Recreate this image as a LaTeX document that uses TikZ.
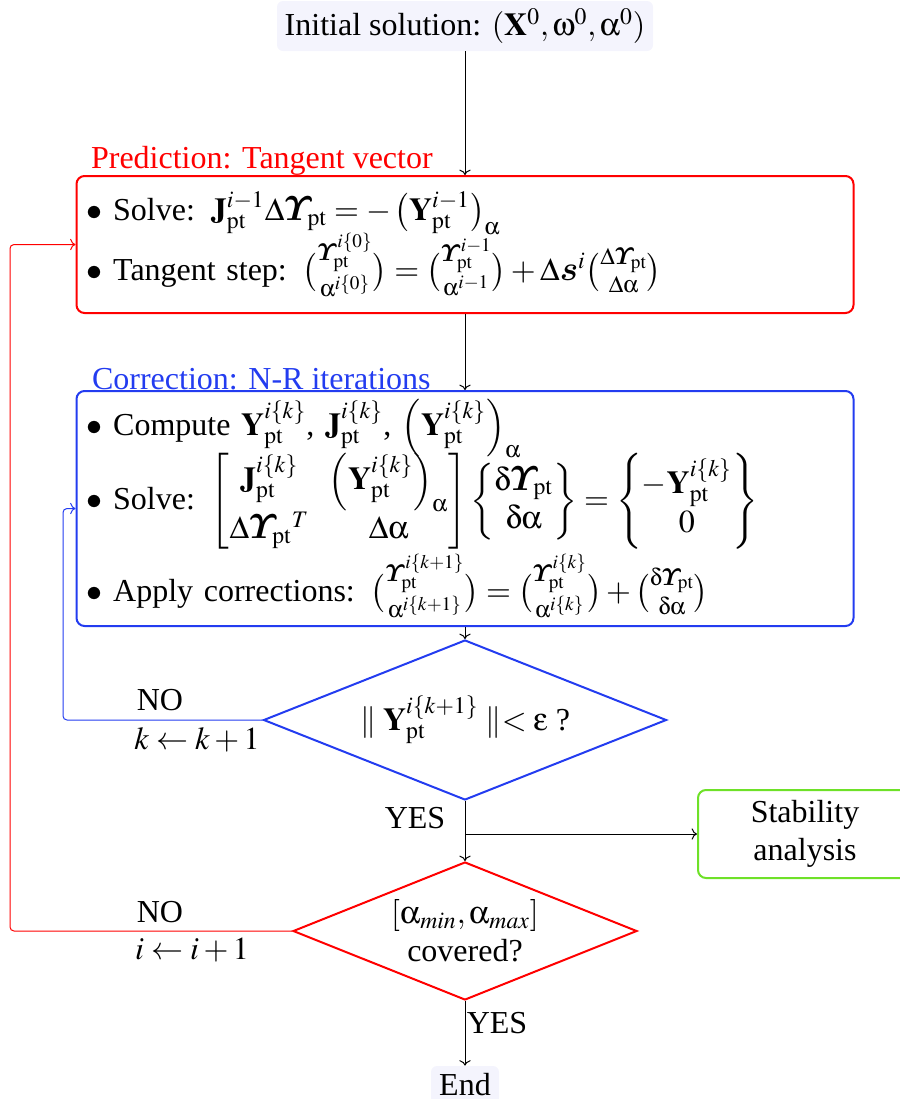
\documentclass[tikz,border=0pt]{standalone}
\usepackage{amsmath}
\usepackage{mathptmx}
\usepackage[Symbol]{upgreek}
\usepackage[no-math]{fontspec}
\setmainfont{Liberation Serif}
\usetikzlibrary{shapes.geometric,arrows.meta,calc}
\DeclareSymbolFont{cmboldit}{OML}{cmm}{b}{it}
\DeclareMathSymbol{\bUps}{\mathord}{cmboldit}{"07}
\DeclareMathAlphabet{\mathbit}{OML}{cmm}{b}{it}
\newcommand{\ptx}{\mathrm{pt}}
\newcommand{\ua}{\upalpha}
\newcommand{\uo}{\upomega}
\newcommand{\ud}{\updelta}
\newcommand{\ue}{\upepsilon}
\newcommand{\itm}{$\bullet$\ }
\definecolor{myblue}{RGB}{35,60,240}
\definecolor{mygreen}{RGB}{110,225,40}
\definecolor{lav}{RGB}{244,244,253}
\begin{document}
\begin{tikzpicture}[x=0.5pt,y=-0.5pt,
  every node/.style={font=\fontsize{16}{19}\selectfont},
  termbox/.style={fill=lav, rounded corners=3pt, inner sep=2pt},
  stagebox/.style={rounded corners=4pt, line width=1pt, minimum width=388.5pt,
    text width=378.5pt, inner xsep=5pt, inner ysep=2pt, align=left},
  decbox/.style={diamond, aspect=2.5, line width=1pt, inner sep=0pt, align=center},
  conn/.style={->, line width=0.5pt}]
\useasboundingbox (0,0) rectangle (900,1099);
\clip (0,0) rectangle (900,1099);

\node[termbox, minimum width=188pt, minimum height=25pt] (init) at (465,26)
  {Initial solution: $(\mathbf{X}^0,\uo^0,\ua^0)$};

\node[stagebox, draw=red, minimum height=68.5pt] (pred) at (465,244.5)
  {\itm Solve: $\mathbf{J}_{\ptx}^{i-1}\Delta\bUps_{\ptx}=-\left(\mathbf{Y}_{\ptx}^{i-1}\right)_{\ua}$\\[-2pt]
   \itm Tangent step: $\binom{\bUps_{\ptx}^{i\{0\}}}{\ua^{i\{0\}}}=\binom{\bUps_{\ptx}^{i-1}}{\ua^{i-1}}+\Delta\mathbit{s}^{i}\binom{\Delta\bUps_{\ptx}}{\Delta\ua}$};
\node[anchor=base west, text=red] (predlbl) at (84,168) {Prediction: Tangent vector};

\node[stagebox, draw=myblue, minimum height=117.5pt] (corr) at (465,508.5)
  {\itm Compute $\mathbf{Y}_{\ptx}^{i\{k\}}$, $\mathbf{J}_{\ptx}^{i\{k\}}$, $\left(\mathbf{Y}_{\ptx}^{i\{k\}}\right)_{\ua}$\\[-3.5pt]
   \itm Solve: $\begin{bmatrix}\mathbf{J}_{\ptx}^{i\{k\}} & \left(\mathbf{Y}_{\ptx}^{i\{k\}}\right)_{\ua}\\ \Delta\bUps_{\ptx}{}^{T} & \Delta\ua\end{bmatrix}\begin{Bmatrix}\ud\bUps_{\ptx}\\ \ud\ua\end{Bmatrix}=\begin{Bmatrix}-\mathbf{Y}_{\ptx}^{i\{k\}}\\ 0\end{Bmatrix}$\\[1pt]
   \itm Apply corrections: $\binom{\bUps_{\ptx}^{i\{k+1\}}}{\ua^{i\{k+1\}}}=\binom{\bUps_{\ptx}^{i\{k\}}}{\ua^{i\{k\}}}+\binom{\ud\bUps_{\ptx}}{\ud\ua}$};
\node[anchor=base west, text=myblue] (corrlbl) at (85,389) {Correction: N-R iterations};

\node[decbox, draw=myblue, minimum width=201.5pt, minimum height=80pt] (chk) at (465,720)
  {$\parallel\mathbf{Y}_{\ptx}^{i\{k+1\}}\parallel<\ue$ ?};

\node[decbox, draw=red, minimum width=172pt, minimum height=69pt] (cov) at (465,931)
  {$[\ua_{min},\ua_{max}]$\\covered?};

\node[draw=mygreen, line width=1pt, rounded corners=4pt, minimum width=107pt,
  minimum height=44pt, align=center] (stab) at (805,834) {Stability\\analysis};

\node[termbox, minimum width=34pt, minimum height=19pt] (end) at (465,1085) {End};

\node (no1) at (160,700) {NO};
\node (kinc) at (197,740) {$k\leftarrow k+1$};
\node (yes1) at (415,818) {YES};
\node (no2) at (160,912) {NO};
\node (iinc) at (192,950) {$i\leftarrow i+1$};
\node (yes2) at (497,1023) {YES};

\draw[conn] (init) -- (pred);
\draw[conn] (pred) -- (corr);
\draw[conn] (corr) -- (chk);
\draw[conn] (chk) -- (cov);
\coordinate (br) at (chk.south |- stab.west);
\draw[conn] (br) -- (stab.west);
\draw[conn] (cov) -- (end);
\coordinate (bl) at (63,0);
\coordinate (rl) at (10,0);
\draw[conn, draw=myblue, rounded corners=2pt] (chk.west) -- (chk.west -| bl) |- (corr.west);
\draw[conn, draw=red, rounded corners=2pt] (cov.west) -- (cov.west -| rl) |- (pred.west);
\end{tikzpicture}
\end{document}
